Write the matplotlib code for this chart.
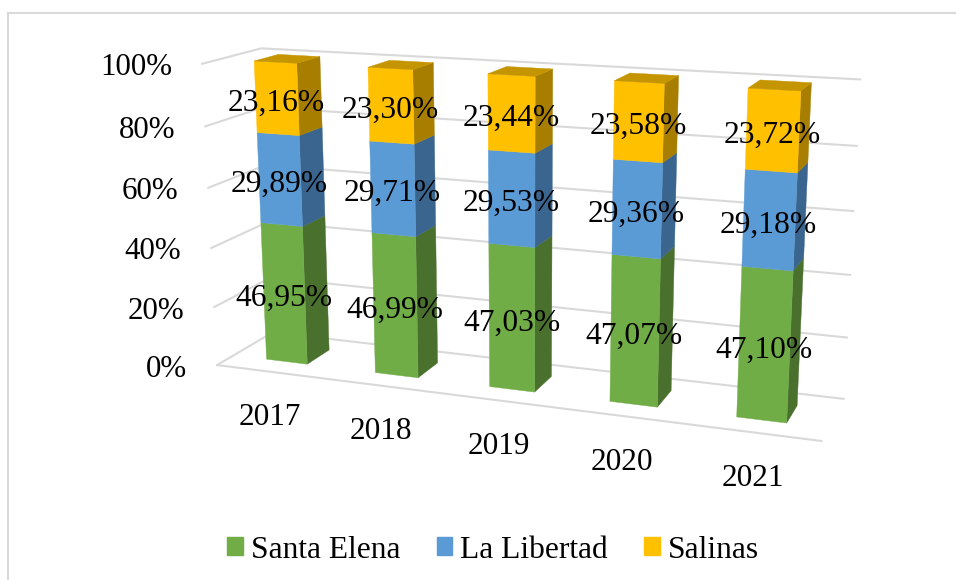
import numpy as np
import matplotlib
matplotlib.use("Agg")
import matplotlib.pyplot as plt
from matplotlib.patches import Patch

years = ["2017", "2018", "2019", "2020", "2021"]
santa_elena = [46.95, 46.99, 47.03, 47.07, 47.10]
la_libertad = [29.89, 29.71, 29.53, 29.36, 29.18]
salinas = [23.16, 23.30, 23.44, 23.58, 23.72]
series_names = ["Santa Elena", "La Libertad", "Salinas"]
y_ticks = [0, 20, 40, 60, 80, 100]

front_colors = ["#70AD47", "#5B9BD5", "#FFC000"]
side_colors = ["#4A702E", "#3A658F", "#A87E00"]
top_color = "#C49500"
grid_color = "#D9D9D9"

bar_w = 0.38
bar_d = 0.42
x0, x1 = 0.5 - bar_w / 2, 0.5 + bar_w / 2
z0, z1 = 0.5 - bar_d / 2, 0.5 + bar_d / 2

# camera calibration: (category, percent, depth) -> pixel seen in the reference
calib = [
    (0, 100, 0, 200, 64), (0, 80, 0, 204, 127), (0, 60, 0, 207, 188),
    (0, 40, 0, 211, 248), (0, 20, 0, 214, 307), (0, 0, 0, 218, 365),
    (5, 100, 1, 861, 79), (5, 80, 1, 857, 146), (5, 60, 1, 854, 211),
    (5, 40, 1, 850, 275), (5, 20, 1, 847, 337), (5, 0, 1, 843, 398),
    (0, 100, 1, 264, 48), (0, 0, 1, 267, 336), (5, 0, 0, 822, 443),
    (x0, 0, z0, 268, 358), (x1, 0, z0, 310, 363), (x1, 0, z1, 332, 348),
    (x0, 100, z0, 254, 61), (x1, 100, z0, 299, 63), (x1, 100, z1, 322, 57),
    (x0, 100, z1, 277, 54),
    (2 + x0, 100, z0, 487, 74), (2 + x0, 0, z0, 489, 386),
    (4 + x0, 0, z0, 735, 417), (4 + x1, 0, z0, 788, 423), (4 + x1, 0, z1, 797, 406),
    (4 + x0, 100, z0, 747, 88), (4 + x1, 100, z0, 802, 91), (4 + x1, 100, z1, 812, 83),
    (4 + x0, 100, z1, 757, 80),
]


def fit_camera(points):
    rows, rhs = [], []
    for X, Y, Z, u, v in points:
        rows.append([X, Y, Z, 1, 0, 0, 0, 0, -u * X, -u * Y, -u * Z])
        rhs.append(u)
        rows.append([0, 0, 0, 0, X, Y, Z, 1, -v * X, -v * Y, -v * Z])
        rhs.append(v)
    p = np.linalg.lstsq(np.array(rows, float), np.array(rhs, float), rcond=None)[0]
    return np.append(p, 1.0).reshape(3, 4)


cam = fit_camera(calib)


def project(x, y, z):
    h = cam @ np.array([x, y, z, 1.0])
    return h[0] / h[2], h[1] / h[2]


def face(ax, corners, color, zorder):
    pts = [project(*c) for c in corners]
    ax.fill([p[0] for p in pts], [p[1] for p in pts], color=color, lw=0.3, zorder=zorder)


plt.rcParams["font.family"] = ["Liberation Serif", "DejaVu Serif"]

fig = plt.figure(figsize=(9.56, 5.8), dpi=100)
ax = fig.add_axes([0, 0, 1, 1])
ax.set_xlim(0, 956)
ax.set_ylim(580, 0)
ax.axis("off")

# chart border
ax.plot([8, 8], [580, 13], color=grid_color, lw=1.5)
ax.plot([8, 956], [13, 13], color=grid_color, lw=1.5)

n = len(years)
for t in y_ticks:
    pts = [project(0, t, 0), project(0, t, 1), project(n, t, 1)]
    ax.plot([p[0] for p in pts], [p[1] for p in pts], color=grid_color, lw=1.5, zorder=1)
    ax.text(pts[0][0] - 30, pts[0][1] + 4, f"{t}%", ha="right", va="center",
            fontsize=22.3, color="black", zorder=5)
a, b = project(0, 0, 0), project(n, 0, 0)
ax.plot([a[0], b[0]], [a[1], b[1]], color=grid_color, lw=1.5, zorder=1)

stacks = [santa_elena, la_libertad, salinas]
for i in range(n):
    base = 0
    for s, vals in enumerate(stacks):
        v = vals[i]
        top = base + v
        xa, xb = i + x0, i + x1
        face(ax, [(xb, base, z0), (xb, base, z1), (xb, top, z1), (xb, top, z0)], side_colors[s], 2)
        face(ax, [(xa, base, z0), (xb, base, z0), (xb, top, z0), (xa, top, z0)], front_colors[s], 3)
        if s == len(stacks) - 1:
            face(ax, [(xa, top, z0), (xb, top, z0), (xb, top, z1), (xa, top, z1)], top_color, 3)
        lx, ly = project(i + 0.48, base + v / 2, z0)
        ax.text(lx + 2, ly + 5, f"{v:.2f}%".replace(".", ","), ha="center", va="center",
                fontsize=22.7, color="black", zorder=6)
        base = top
    px, py = project(i + 0.5, 0, 0)
    ax.text(px - 1, py + 46, years[i], ha="center", va="center", fontsize=22.5, color="black", zorder=5)

handles = [Patch(color=c, label=name) for c, name in zip(front_colors, series_names)]
ax.legend(handles=handles, loc="center", bbox_to_anchor=(493 / 956, 1 - 550 / 580), ncol=3,
          frameon=False, fontsize=22.7, handlelength=0.5, handleheight=0.5,
          handletextpad=0.25, columnspacing=1.14, borderpad=0)

fig.savefig("out.png", dpi=100)
